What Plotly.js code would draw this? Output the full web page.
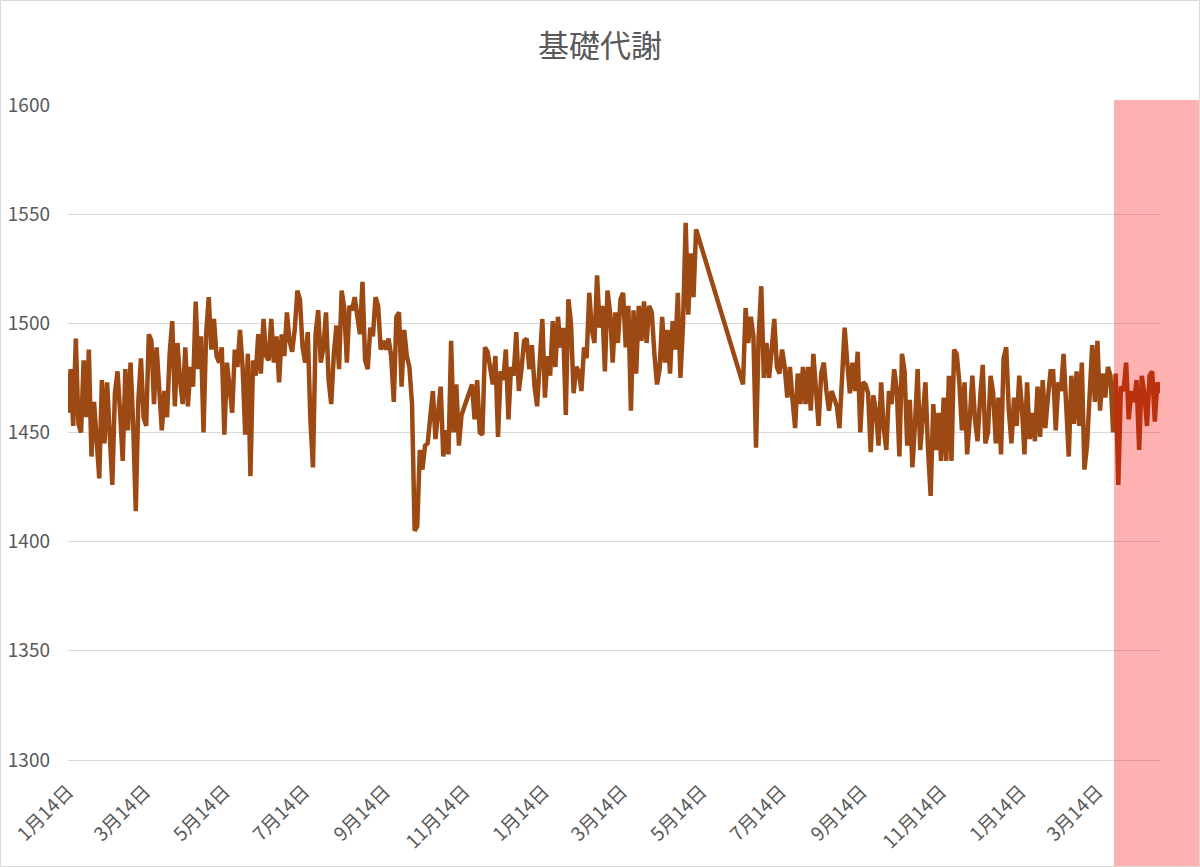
<!DOCTYPE html>
<html>
<head>
<meta charset="utf-8">
<script src="https://cdn.plot.ly/plotly-3.0.1.min.js"></script>
<style>
  html, body { margin: 0; padding: 0; background: #fff; }
  #chart { width: 1200px; height: 867px; }
</style>
</head>
<body>
<div id="chart"></div>
<script>
// ---- data ----
const chartTitle = '基礎代謝';
const startDate = '2019-01-14';   // first measurement
const stepDays = 2;               // one reading per 2 days
// null = no measurement (line is bridged, as in the original)
const values = [
  1459,1479,1453,1493,1454,1450,1483,1457,1488,1439,
  1464,1445,1429,1474,1445,1473,1444,1426,1468,1478,
  1459,1437,1479,1451,1482,1454,1414,1465,1484,1457,
  1453,1495,1492,1463,1489,1469,1451,1469,1457,1486,
  1501,1462,1491,1474,1463,1489,1462,1480,1471,1510,
  1479,1494,1450,1495,1512,1488,1502,1485,1482,1489,
  1449,1482,1468,1459,1488,1480,1497,1480,1449,1486,
  1430,1483,1476,1495,1477,1502,1485,1483,1502,1482,
  1494,1473,1495,1485,1505,1492,1487,1497,1515,1511,
  1489,1482,1496,1456,1434,1495,1506,1482,1489,1505,
  1474,1463,1486,1499,1479,1515,1507,1482,1508,1506,
  1512,1505,1495,1519,1483,1479,1498,1494,1512,1508,
  1488,1492,1488,1493,1485,1464,1503,1505,1471,1497,
  1485,1480,1463,1405,1407,1442,1433,1444,1445,1457,
  1469,1447,1459,1471,1439,1451,1440,1492,1450,1472,
  1444,1458,null,null,null,1472,1456,1474,1450,1449,
  1489,1487,1479,1472,1485,1448,1478,1474,1488,1456,
  1480,1476,1496,1469,1479,1492,1493,1479,1490,1471,
  1462,1486,1502,1466,1485,1476,1501,1480,1503,1489,
  1498,1458,1511,1500,1468,1480,1478,1469,1489,1484,
  1514,1497,1491,1522,1498,1508,1478,1515,1505,1482,
  1505,1491,1511,1514,1489,1508,1460,1506,1477,1508,
  1492,1510,1491,1508,1505,1486,1472,1479,1503,1482,
  1497,1477,1501,1488,1514,1475,1500,1546,1504,1532,
  1512,1543,null,null,null,null,null,null,null,null,
  null,null,null,null,null,null,null,null,null,1472,
  1507,1491,1503,1494,1443,1494,1517,1475,1491,1475,
  1488,1502,1480,1477,1488,1480,1466,1480,1465,1452,
  1477,1463,1480,1463,1480,1460,1486,1471,1453,1477,
  1482,1469,1460,1469,1466,1462,1452,1476,1498,1482,
  1468,1482,1469,1487,1450,1473,1472,1468,1441,1467,
  1460,1444,1473,1452,1442,1469,1463,1479,1470,1439,
  1486,1478,1444,1465,1434,1454,1479,1442,1460,1473,
  1442,1421,1463,1442,1459,1437,1466,1437,1476,1437,
  1488,1486,1473,1451,1473,1440,1456,1476,1456,1446,
  1466,1481,1445,1450,1476,1468,1445,1466,1440,1484,
  1489,1460,1445,1466,1453,1476,1462,1440,1473,1447,
  1459,1446,1471,1448,1474,1452,1466,1478,1478,1451,
  1473,1469,1486,1465,1439,1476,1454,1478,1453,1482,
  1433,1444,1473,1490,1464,1492,1460,1477,1466,1480,
  1476,1450,1477,1426,1471,1469,1482,1456,1469,1464,
  1474,1442,1476,1468,1453,1476,1478,1455,1473,1468
];
const tickDates = ['2019-01-14','2019-03-14','2019-05-14','2019-07-14','2019-09-14','2019-11-14',
                   '2020-01-14','2020-03-14','2020-05-14','2020-07-14','2020-09-14','2020-11-14',
                   '2021-01-14','2021-03-14'];
const tickLabels = ['1月14日','3月14日','5月14日','7月14日','9月14日','11月14日',
                    '1月14日','3月14日','5月14日','7月14日','9月14日','11月14日',
                    '1月14日','3月14日'];
const yTicks = [1300, 1350, 1400, 1450, 1500, 1550, 1600];

// ---- build dates ----
const t0 = Date.parse(startDate + 'T00:00:00Z');
const dates = values.map((v, i) => new Date(t0 + i * stepDays * 86400000).toISOString().slice(0, 10));

const FONT = '"Noto Sans CJK JP", "Noto Sans", sans-serif';
const GREY = '#595959';

const trace = {
  type: 'scatter',
  mode: 'lines',
  x: dates,
  y: values,
  connectgaps: true,
  line: { color: '#9C4913', width: 4.5 },
  hoverinfo: 'x+y'
};

const layout = {
  width: 1200,
  height: 867,
  margin: { l: 68, r: 40, t: 105, b: 107 },
  paper_bgcolor: '#ffffff',
  plot_bgcolor: '#ffffff',
  showlegend: false,
  title: {
    text: chartTitle,
    x: 0.5, xref: 'container', xanchor: 'center',
    y: 1 - 46 / 867, yref: 'container', yanchor: 'middle',
    font: { family: FONT, size: 31, color: GREY }
  },
  xaxis: {
    type: 'date',
    range: [dates[0], dates[dates.length - 1]],
    tickmode: 'array',
    tickvals: tickDates,
    ticktext: tickLabels,
    tickangle: -45,
    tickfont: { family: FONT, size: 19, color: GREY },
    ticklabelstandoff: 12,
    showgrid: false,
    zeroline: false,
    showline: true,
    linecolor: '#d9d9d9',
    linewidth: 1,
    ticks: '',
    fixedrange: true
  },
  yaxis: {
    range: [1300, 1600],
    tickmode: 'array',
    tickvals: yTicks,
    ticktext: yTicks.map(String),
    tickfont: { family: FONT, size: 19, color: GREY },
    showgrid: true,
    gridcolor: '#d9d9d9',
    gridwidth: 1,
    zeroline: false,
    showline: false,
    ticks: '',
    ticklabelstandoff: 17,
    fixedrange: true
  },
  shapes: [
    { // highlighted recent period
      type: 'rect', xref: 'paper', yref: 'paper', layer: 'above',
      x0: (1114 - 68) / 1092, x1: (1200 - 68) / 1092,
      y0: (760 - 867) / 655, y1: (760 - 100) / 655,
      fillcolor: 'rgba(255,0,0,0.31)', line: { width: 0 }
    },
    { // chart area border
      type: 'rect', xref: 'paper', yref: 'paper', layer: 'above',
      x0: -67.5 / 1092, x1: (1199.5 - 68) / 1092,
      y0: (760 - 866.5) / 655, y1: (760 - 0.5) / 655,
      fillcolor: 'rgba(0,0,0,0)', line: { color: '#d9d9d9', width: 1 }
    }
  ]
};

Plotly.newPlot('chart', [trace], layout, { displayModeBar: false, staticPlot: true });
</script>
</body>
</html>
